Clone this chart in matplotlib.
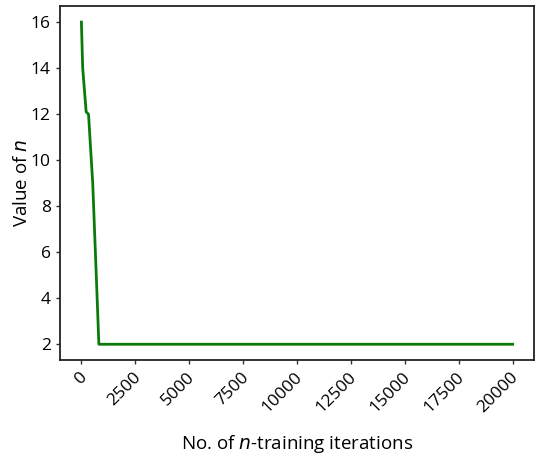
import matplotlib
matplotlib.use("Agg")
import matplotlib.pyplot as plt
import matplotlib.transforms as mtransforms

### data ###
iterations = [0, 60, 220, 330, 525, 710, 810, 20000]
n_values = [16, 14, 12.1, 12, 9, 4.5, 2, 2]
x_ticks = [0, 2500, 5000, 7500, 10000, 12500, 15000, 17500, 20000]
y_ticks = [2, 4, 6, 8, 10, 12, 14, 16]

plt.rcParams['font.family'] = ['Open Sans', 'DejaVu Sans']

fig = plt.figure(figsize=(5.44, 4.62), dpi=100)
ax = fig.add_axes([0.110, 0.220, 0.872, 0.767])

ax.plot(iterations, n_values, color='#0a7a0a', linewidth=2)

ax.set_xticks(x_ticks)
ax.set_yticks(y_ticks)
ax.tick_params(labelsize=12.5, length=3, width=1, color='#333333')
for lab in ax.get_xticklabels():
    lab.set_rotation(45)
    lab.set_ha('right')
    lab.set_transform(lab.get_transform() + mtransforms.ScaledTranslation(9/100, 0, fig.dpi_scale_trans))

for sp in ax.spines.values():
    sp.set_linewidth(1.3)
    sp.set_color('#222222')

ax.set_xlabel("No. of $\\it{n}$-training iterations", fontsize=13.5, labelpad=12)
ax.set_ylabel("Value of $\\it{n}$", fontsize=13.5, labelpad=0)

fig.savefig("out.png", dpi=100)
